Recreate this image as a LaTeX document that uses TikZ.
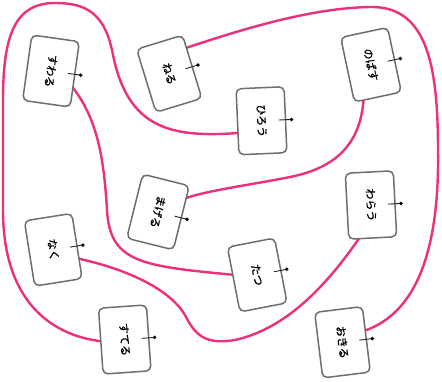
\documentclass[tikz,border=0pt]{standalone}
\usepackage{fontspec}
\newfontfamily\jp[FakeBold=1]{Noto Sans CJK JP}
\usetikzlibrary{calc}
\definecolor{linkpink}{RGB}{236,48,124}
\definecolor{cardgray}{RGB}{110,110,110}
\pgfdeclarelayer{bg}
\pgfdeclarelayer{paper}
\pgfsetlayers{paper,bg,main}
\tikzset{
  card/.style={draw=cardgray, line width=1.5pt, rounded corners=5pt, fill=white,
    minimum width=66pt, minimum height=48pt, inner sep=0pt, outer sep=0pt,
    font=\jp\fontsize{11}{12}\selectfont},
  link/.style={draw=linkpink, line width=2.4pt, line cap=round},
  tickline/.style={draw=black!85, line width=0.9pt}
}
\begin{document}
\begin{tikzpicture}[x=1pt,y=1pt]
\begin{pgfonlayer}{paper}
\useasboundingbox[fill=white] (0,0) rectangle (442,-381);
\end{pgfonlayer}
\node[card, rotate=-98]   (suwaru) at (51,-71)        {すわる};
\node[card, rotate=-73]   (neru)   at (169.25,-73.75) {ねる};
\node[card, rotate=-87.5] (hirou)  at (261.5,-120.75) {ひろう};
\node[card, rotate=-78]   (nobasu) at (371,-64.75)    {のばす};
\node[card, rotate=-104]  (mageru) at (158,-212)      {まげる};
\node[card, rotate=-87]   (warau)  at (371,-205)      {わらう};
\node[card, rotate=-81]   (naku)   at (53.25,-249.75) {なく};
\node[card, rotate=-79]   (tatsu)  at (257.25,-275)   {たつ};
\node[card, rotate=-86]   (suteru) at (124.75,-339.5) {すてる};
\node[card, rotate=-83]   (okiru)  at (342.5,-342.25) {おきる};
\foreach \n in {suwaru,neru,hirou,nobasu,mageru,warau,naku,tatsu,suteru,okiru}{
  \draw[tickline] ($(\n.center)!0.71!(\n.north)$) -- ($(\n.center)!1.25!(\n.north)$);
  \fill[black] ($(\n.center)!1.25!(\n.north)$) circle (1.9pt);
}
\begin{pgfonlayer}{bg}
% suwaru - tatsu
\draw[link] ($(suwaru.north)!0.41!(suwaru.north east)$)
  .. controls (98,-120) and (104,-160) .. (107,-210)
  .. controls (110,-262) and (140,-266) .. ($(tatsu.south)!0.15!(tatsu.south west)$);
% neru - okiru
\draw[link] ($(neru.north)!0.6!(neru.north west)$)
  .. controls (240,-30) and (310,-8) .. (370,-7)
  .. controls (425,-6) and (438,-60) .. (438,-150)
  .. controls (440,-280) and (400,-318) .. ($(okiru.north)!0.27!(okiru.north west)$);
% hirou - suteru
\draw[link] ($(hirou.south)!0.34!(hirou.south east)$)
  .. controls (170,-138) and (128,-128) .. (113,-55)
  .. controls (105,-12) and (85,-3) .. (55,-3)
  .. controls (15,-3) and (3,-35) .. (3,-100)
  -- (3,-210)
  .. controls (3,-300) and (50,-335) .. (suteru.south);
% nobasu - mageru
\draw[link] ($(nobasu.east)!0.61!(nobasu.south east)$)
  .. controls (360,-145) and (335,-168) .. (290,-177)
  .. controls (250,-185) and (210,-190) .. ($(mageru.north)!0.62!(mageru.north west)$);
% naku - warau
\draw[link] ($(naku.north)!0.39!(naku.north east)$)
  .. controls (130,-270) and (170,-290) .. (185,-315)
  .. controls (195,-335) and (205,-345) .. (235,-340)
  .. controls (280,-330) and (320,-295) .. ($(warau.east)!0.58!(warau.south east)$);
\end{pgfonlayer}
\end{tikzpicture}
\end{document}
